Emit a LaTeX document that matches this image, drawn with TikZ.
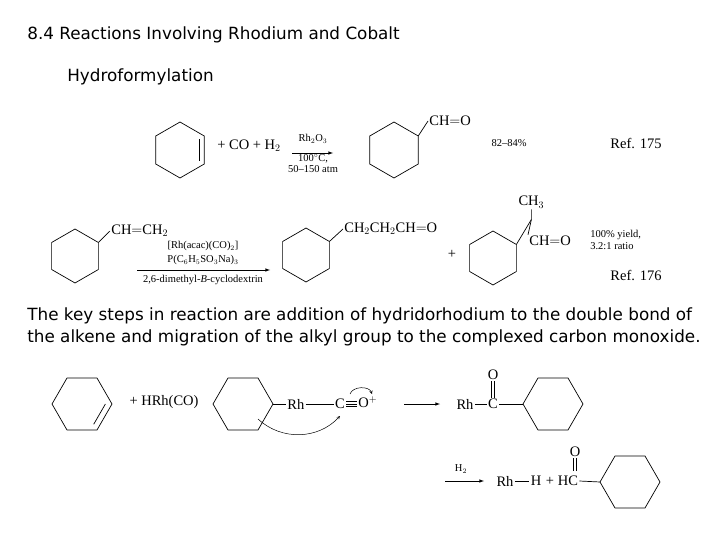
\documentclass[tikz,border=0pt]{standalone}
\usepackage{fontspec}
\setmainfont{Liberation Serif}
\newfontfamily\headfont{DejaVu Sans}
\usetikzlibrary{calc}

% hexagon ring: name, centre, start angle, radius
\newcommand\hexring[4]{%
  \coordinate (#1) at (#2);
  \foreach \k in {0,...,5} \coordinate (#1-\k) at ($(#1)+(#3+\k*60:#4)$);
  \draw (#1-0) -- (#1-1) -- (#1-2) -- (#1-3) -- (#1-4) -- (#1-5) -- cycle;}
% inner line of a ring double bond
\newcommand\ringdb[3]{%
  \draw ($(#1)!0.78!(#1-#2)$) -- ($(#1)!0.78!(#1-#3)$);}

\begin{document}
\begin{tikzpicture}[x=1pt,y=-1pt,line width=0.7pt,
  chem/.style={inner sep=1pt,font=\fontsize{14.5}{16}\selectfont},
  small/.style={inner sep=1pt,font=\fontsize{10.5}{11}\selectfont},
  head/.style={anchor=west,inner sep=0pt,font=\headfont\fontsize{16.8}{19}\selectfont},
  rxn/.style={-latex,line width=0.6pt}]

    \useasboundingbox (0,0) rectangle (720,540);

    % headings
    \node[head] (title) at (27,35) {8.4 Reactions Involving Rhodium and Cobalt};
    \node[head] (sub) at (67,77) {Hydroformylation};
    \node[head] (par1) at (27,316) {The key steps in reaction are addition of hydridorhodium to the double bond of};
    \node[head] (par2) at (27,338) {the alkene and migration of the alkyl group to the complexed carbon monoxide.};

    % first reaction
    \hexring{ene1}{180,150}{30}{28}
    \ringdb{ene1}{5}{0}
    \node[chem] (reag1) at (249,146) {+ CO + H$_2$};
    \coordinate (a1s) at (292,153);
    \coordinate (a1e) at (333,153);
    \draw[rxn] (a1s) -- (a1e);
    \node[small] (cat1) at (313,139) {Rh$_2$O$_3$};
    \node[small] (cond1) at (313,159) {100$^\circ$C,};
    \node[small] (cond1b) at (313,169) {50--150 atm};
    \hexring{prod1}{394,150}{30}{28}
    \node[chem,anchor=west] (cho1) at (428,121) {CH$=$O};
    \draw (prod1-5) -- (cho1.west);
    \node[small] (yield1) at (509,143) {82--84\%};
    \node[chem] (ref1) at (636,143) {Ref. 175};

    % second reaction
    \hexring{vin}{75,256}{30}{27}
    \node[chem,anchor=west] (vinch) at (110,231) {CH$=$CH$_2$};
    \draw (vin-5) -- (vinch.west);
    \coordinate (a2s) at (137,270);
    \coordinate (a2e) at (270,270);
    \draw[rxn] (a2s) -- (a2e);
    \node[small] (cat2) at (203,246) {[Rh(acac)(CO)$_2$]};
    \node[small] (cat2b) at (203,260) {P(C$_6$H$_5$SO$_3$Na)$_3$};
    \node[small] (cat2c) at (203,280) {2,6-dimethyl-\textit{B}-cyclodextrin};
    \hexring{prod2}{306,255}{30}{27}
    \node[chem,anchor=west] (chain) at (343,229) {CH$_2$CH$_2$CH$=$O};
    \draw (prod2-5) -- (chain.west);
    \node[chem] (plus2) at (452,254) {+};
    \hexring{prod3}{493,258}{30}{27}
    \coordinate (br) at ($(prod3-5)+(15,-25)$);
    \node[chem,anchor=south] (me) at ($(br)+(0,-10)$) {CH$_3$};
    \node[chem,anchor=west] (cho3) at (528,241) {CH$=$O};
    \draw (prod3-5) -- (br) -- (me.south);
    \draw (br) -- (cho3.north west);
    \node[small,anchor=west] (yield2) at (589,235) {100\% yield,};
    \node[small,anchor=west] (ratio2) at (589,246) {3.2:1 ratio};
    \node[chem] (ref2) at (636,275) {Ref. 176};

    % mechanism
    \hexring{ene2}{82,404}{0}{30}
    \ringdb{ene2}{0}{1}
    \node[chem] (hrh) at (164,402) {+ HRh(CO)};
    \hexring{alk}{243,404}{0}{30}
    \node[chem,anchor=west] (rh1) at (286,404) {Rh};
    \node[chem] (c1) at (340,404) {C};
    \node[chem,anchor=west] (o1) at (357,402) {O$^+$};
    \draw (alk-0) -- (rh1.west);
    \draw (rh1.east) -- (c1.west);
    \foreach \dy in {-2.5,0,2.5}
      \draw ($(c1.east)+(0,\dy)$) -- ($(o1.west |- c1.east)+(0,\dy)$);
    \draw[-stealth,line width=0.5pt] (258,419) to[bend right=45] (340,416);
    \draw[-stealth,line width=0.5pt] (350,394) to[bend left=70] (372,394);
    \coordinate (a3s) at (404,404);
    \coordinate (a3e) at (440,404);
    \draw[rxn] (a3s) -- (a3e);
    \node[chem] (rh2) at (465,404) {Rh};
    \node[chem] (c2) at (493,404) {C};
    \node[chem] (o2) at (493,375) {O};
    \draw (rh2.east) -- (c2.west);
    \draw ([xshift=-1.8pt]c2.north) -- ([xshift=-1.8pt]o2.south);
    \draw ([xshift=1.8pt]c2.north) -- ([xshift=1.8pt]o2.south);
    \hexring{acyl}{553,404}{0}{30}
    \draw (c2.east) -- (acyl-3);

    \coordinate (a4s) at (445,481);
    \coordinate (a4e) at (484,481);
    \draw[rxn] (a4s) -- (a4e);
    \node[small] (h2) at (461,469) {H$_2$};
    \node[chem] (rh3) at (505,481) {Rh};
    \node[chem] (h3) at (536,481) {H};
    \node[chem] (plus3) at (550,481) {+};
    \node[chem] (hc) at (568,481) {HC};
    \node[chem] (o3) at (575,452) {O};
    \draw (rh3.east) -- (h3.west);
    \draw ([xshift=-1.8pt]o3.south) -- ++(0,13);
    \draw ([xshift=1.8pt]o3.south) -- ++(0,13);
    \hexring{ald}{630,482}{0}{30}
    \draw (hc.east) -- (ald-3);

\end{tikzpicture}
\end{document}
